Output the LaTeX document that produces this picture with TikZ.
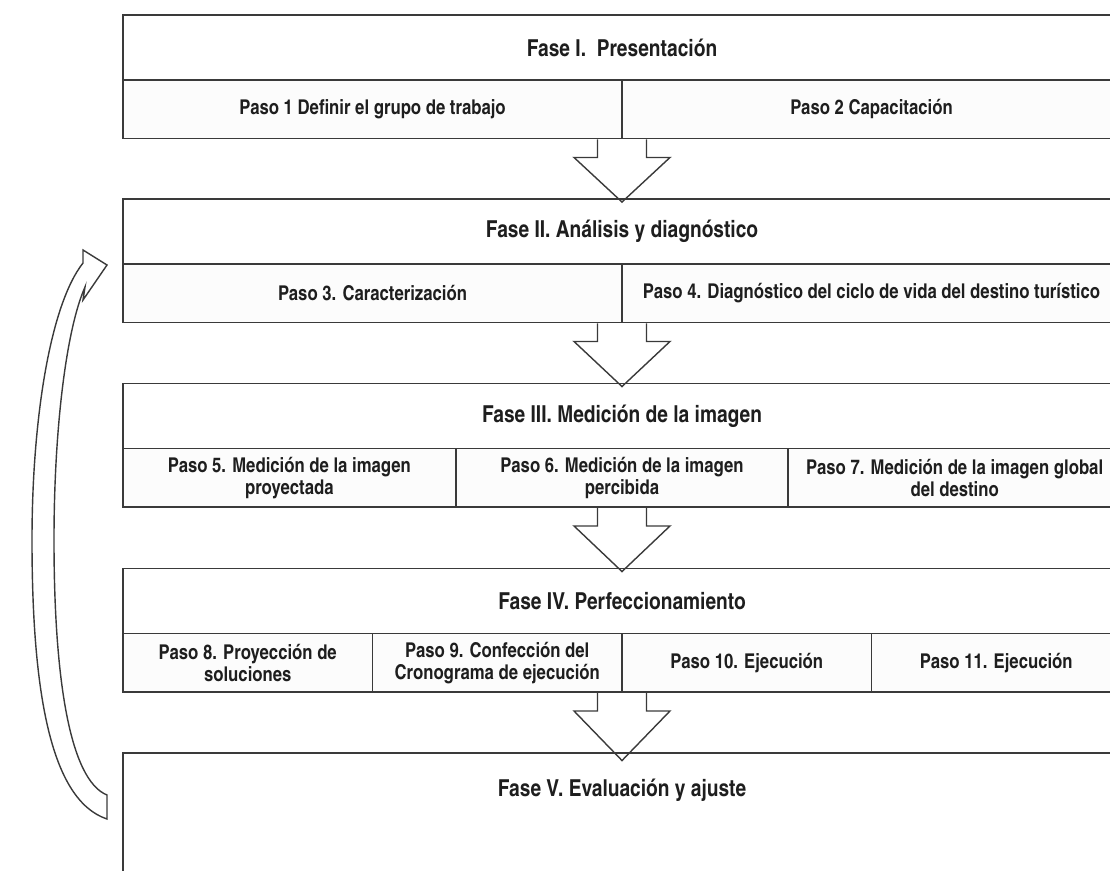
\documentclass[tikz,border=0pt]{standalone}
\usepackage{fontspec}
\setmainfont{TeX Gyre Heros Cn}
\usetikzlibrary{calc}

\definecolor{linea}{HTML}{3A3A3A}
\definecolor{texto}{HTML}{1E1E1E}

% flecha de bloque entre dos fases: #1 arranque, #2 punta
\newcommand{\flecha}[2]{%
    \draw [bloque] ($(#1)+(-24.5,0)$) -- ++(0,18) -- ++(-23.5,0)
        -- ($(#2)+(0,4)$) -- ($(#1)+(48,18)$) -- ++(-23.5,0) -- ++(0,-18);
}

\begin{document}
\begin{tikzpicture}[x=0.02cm, y=-0.02cm, line width=1.1pt, text=texto,
    fase/.style={draw=linea, minimum width=19.96cm, minimum height=1.3cm,
        font=\bfseries\fontsize{13.3}{15}\selectfont},
    paso/.style={draw=linea, fill=gray!2, minimum height=1.17cm, align=center,
        font=\bfseries\fontsize{11.6}{12.4}\selectfont},
    bloque/.style={draw=linea, line width=0.8pt, line join=miter}]
    \useasboundingbox (0, 0) rectangle (1110, 870);

    % Fase I
    \node [fase] (f1) at (622, 47.5) {Fase I.\ \ Presentación};
    \node [paso, minimum width=9.98cm] (p1) at (372.5, 109.25) {Paso 1 Definir el grupo de trabajo};
    \node [paso, minimum width=9.98cm] (p2) at (871.5, 109.25) {Paso 2 Capacitación};

    % Fase II
    \node [fase] (f2) at (622, 231.5) {Fase II. Análisis y diagnóstico};
    \node [paso, minimum width=9.98cm] (p3) at (372.5, 293.25) {Paso 3. Caracterización};
    \node [paso, minimum width=9.98cm] (p4) at (871.5, 293.25) {Paso 4. Diagnóstico del ciclo de vida del destino turístico};

    % Fase III
    \node [fase] (f3) at (622, 416) {Fase III. Medición de la imagen};
    \node [paso, minimum width=6.6533cm] (p5) at (289.33, 477.75) {Paso 5. Medición de la imagen\\proyectada};
    \node [paso, minimum width=6.6533cm] (p6) at (622, 477.75) {Paso 6. Medición de la imagen\\percibida};
    \node [paso, minimum width=6.6533cm] (p7) at (954.67, 477.75) {Paso 7. Medición de la imagen global\\del destino};

    % Fase IV
    \node [fase] (f4) at (622, 601) {Fase IV. Perfeccionamiento};
    \node [paso, minimum width=4.99cm] (p8) at (247.75, 662.75) {Paso 8. Proyección de\\soluciones};
    \node [paso, minimum width=4.99cm] (p9) at (497.25, 662.75) {Paso 9. Confección del\\Cronograma de ejecución};
    \node [paso, minimum width=4.99cm] (p10) at (746.75, 662.75) {Paso 10. Ejecución};
    \node [paso, minimum width=4.99cm] (p11) at (996.25, 662.75) {Paso 11. Ejecución};

    % Fase V
    \draw [linea] (123, 900) |- (1121, 753) -- (1121, 900);
    \node [fase, draw=none] (f5) at (622, 790) {Fase V. Evaluación y ajuste};

    % flechas entre fases
    \coordinate (a1) at (f1.south |- p1.south);
    \coordinate (a2) at (f2.south |- p3.south);
    \coordinate (a3) at (f3.south |- p6.south);
    \coordinate (a4) at (f4.south |- p9.south);
    \flecha{a1}{f2.north}
    \flecha{a2}{f3.north}
    \flecha{a3}{f4.north}
    \flecha{a4}{f5.north}

    % retroalimentacion
    \draw [bloque] (83, 263) .. controls (50, 305) and (32, 420) .. (32, 540)
        .. controls (32, 690) and (50, 800) .. (107, 819)
        -- (107, 795) .. controls (70, 780) and (54, 680) .. (54, 540)
        .. controls (54, 430) and (66, 330) .. (85, 287)
        -- (83, 300) -- (107, 265) -- (83, 250) -- cycle;
\end{tikzpicture}
\end{document}
